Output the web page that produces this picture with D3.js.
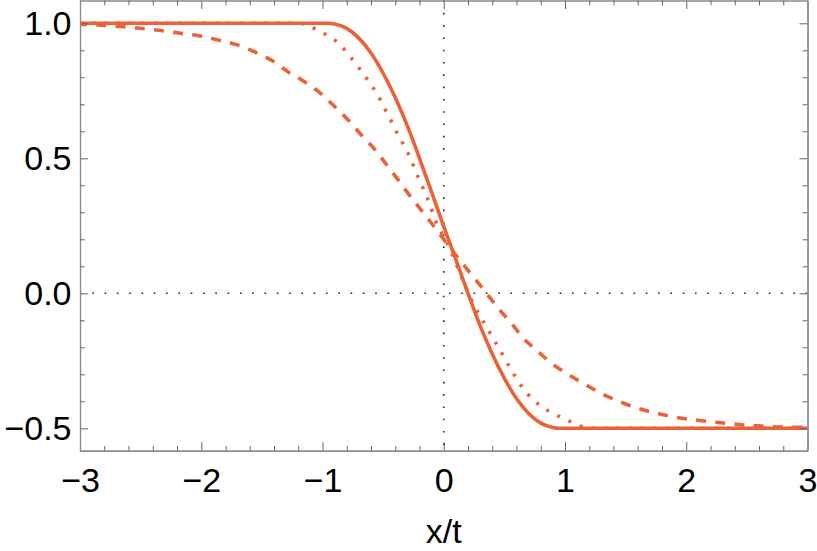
<!DOCTYPE html>
<html>
<head>
<meta charset="utf-8">
<script src="https://cdn.jsdelivr.net/npm/d3@7"></script>
<style>
  html, body { margin: 0; padding: 0; background: #fff; }
  svg { display: block; }
  text { font-family: "Liberation Sans", Arial, sans-serif; }
</style>
</head>
<body>
<svg id="chart" width="817" height="551"></svg>
<script>
// ---- data ----
const solidX = [-3, -0.95, -0.9, -0.8, -0.7, -0.6, -0.5, -0.4, -0.3, -0.2, -0.1, 0, 0.1, 0.2, 0.3, 0.4, 0.5, 0.6, 0.7, 0.8, 0.9, 0.95, 3];
const solidY = [1, 1, 0.997, 0.981, 0.945, 0.89, 0.815, 0.725, 0.62, 0.5, 0.375, 0.247, 0.125, 0.0, -0.12, -0.225, -0.315, -0.39, -0.445, -0.481, -0.497, -0.5, -0.5];

const dottedX = [-3, -1.2, -1.1, -1.05, -0.964, -0.88, -0.808, -0.75, -0.687, -0.626, -0.577, -0.522, -0.473, -0.431, -0.385, -0.294, -0.212, -0.129, -0.06, 0.016, 0.242, 0.352, 0.448, 0.544, 0.654, 0.791, 0.956, 1.066, 1.2, 3];
const dottedY = [1, 1, 0.99, 0.975, 0.957, 0.931, 0.897, 0.864, 0.827, 0.79, 0.757, 0.716, 0.672, 0.636, 0.594, 0.519, 0.431, 0.346, 0.26, 0.197, -0.037, -0.124, -0.198, -0.274, -0.352, -0.414, -0.457, -0.479, -0.5, -0.5];

const dashedX = [-3, -2.82, -2.66, -2.49, -2.33, -2.17, -2.01, -1.86, -1.71, -1.56, -1.41, -1.283, -1.146, -1.008, -0.898, -0.789, -0.679, -0.569, -0.473, -0.376, -0.28, -0.184, -0.088, 0, 0.132, 0.242, 0.324, 0.462, 0.558, 0.654, 0.764, 0.888, 1.011, 1.148, 1.313, 1.45, 1.6, 1.753, 1.912, 2.07, 2.23, 2.38, 2.55, 2.7, 2.87, 3];
const dashedY = [0.996, 0.993, 0.988, 0.981, 0.973, 0.963, 0.953, 0.938, 0.921, 0.894, 0.86, 0.82, 0.783, 0.738, 0.691, 0.642, 0.586, 0.533, 0.477, 0.42, 0.362, 0.307, 0.252, 0.2, 0.123, 0.062, 0.016, -0.062, -0.111, -0.165, -0.21, -0.259, -0.296, -0.333, -0.374, -0.401, -0.426, -0.444, -0.459, -0.469, -0.477, -0.484, -0.49, -0.494, -0.496, -0.497];

const xMajorTicks = [-3, -2, -1, 0, 1, 2, 3];
const xTickLabels = ["\u22123", "\u22122", "\u22121", "0", "1", "2", "3"];
const yMajorTicks = [-0.5, 0, 0.5, 1.0];
const yTickLabels = ["\u22120.5", "0.0", "0.5", "1.0"];
const xLabel = "x/t";

// ---- layout ----
const mLeft = 80, mRight = 807.5, mTop = 0.5, mBottom = 450.7;
const color = "#EC6238";
const frameColor = "#8a8a8a";

const x = d3.scaleLinear().domain([-3, 3]).range([mLeft, mRight]);
const y = d3.scaleLinear().domain([-0.583, 1.0844]).range([mBottom, mTop]);

const svg = d3.select("#chart");

// minor tick values
const xMinor = d3.range(-3, 3.0001, 0.2).map(v => +v.toFixed(2))
  .filter(v => !xMajorTicks.some(m => Math.abs(m - v) < 1e-6));
const yMinor = d3.range(-0.5, 1.0001, 0.1).map(v => +v.toFixed(2))
  .filter(v => !yMajorTicks.some(m => Math.abs(m - v) < 1e-6));

// reference dotted lines at x=0, y=0
svg.append("line")
  .attr("x1", x(0)).attr("x2", x(0)).attr("y1", mTop).attr("y2", mBottom)
  .attr("stroke", "#222").attr("stroke-width", 1.6).attr("stroke-dasharray", "1.6,10.7");
svg.append("line")
  .attr("x1", mLeft).attr("x2", mRight).attr("y1", y(0)).attr("y2", y(0))
  .attr("stroke", "#222").attr("stroke-width", 1.6).attr("stroke-dasharray", "1.6,10.7");

// clip
svg.append("clipPath").attr("id", "clip")
  .append("rect").attr("x", mLeft).attr("y", mTop - 5).attr("width", mRight - mLeft + 3).attr("height", mBottom - mTop + 5);

const line = d3.line().x(d => x(d[0])).y(d => y(d[1])).curve(d3.curveMonotoneX);

const g = svg.append("g").attr("clip-path", "url(#clip)");
g.append("path").datum(dashedX.map((v, i) => [v, dashedY[i]]))
  .attr("d", line).attr("fill", "none").attr("stroke", color).attr("stroke-width", 3.6)
  .attr("stroke-dasharray", "10,9.3").attr("stroke-dashoffset", 3);
g.append("path").datum(dottedX.map((v, i) => [v, dottedY[i]]))
  .attr("d", line).attr("fill", "none").attr("stroke", color).attr("stroke-width", 3.6)
  .attr("stroke-dasharray", "3,9.3");
g.append("path").datum(solidX.map((v, i) => [v, solidY[i]]))
  .attr("d", line).attr("fill", "none").attr("stroke", color).attr("stroke-width", 3.6);

// ---- axes / frame ----
function styleAxis(sel) {
  sel.select(".domain").attr("stroke", frameColor).attr("stroke-width", 1.2);
  sel.selectAll(".tick line").attr("stroke", "#666").attr("stroke-width", 1);
}

// bottom major (with labels)
const gb = svg.append("g").attr("transform", `translate(0,${mBottom})`)
  .call(d3.axisBottom(x).tickValues(xMajorTicks).tickSizeInner(-8.5).tickSizeOuter(0).tickPadding(17)
    .tickFormat((d, i) => xTickLabels[i]));
styleAxis(gb);
gb.selectAll("text").attr("font-size", 34).attr("fill", "#000")
  .attr("font-family", "'Liberation Sans', Arial, sans-serif");
svg.append("g").attr("transform", `translate(0,${mBottom})`)
  .call(d3.axisBottom(x).tickValues(xMinor).tickSizeInner(-4.8).tickSizeOuter(0).tickFormat(""))
  .call(styleAxis);

// top
svg.append("g").attr("transform", `translate(0,${mTop})`)
  .call(d3.axisTop(x).tickValues(xMajorTicks).tickSizeInner(-8.5).tickSizeOuter(0).tickFormat(""))
  .call(styleAxis);
svg.append("g").attr("transform", `translate(0,${mTop})`)
  .call(d3.axisTop(x).tickValues(xMinor).tickSizeInner(-4.8).tickSizeOuter(0).tickFormat(""))
  .call(styleAxis);

// left major (with labels)
const gl = svg.append("g").attr("transform", `translate(${mLeft},0)`)
  .call(d3.axisLeft(y).tickValues(yMajorTicks).tickSizeInner(-8).tickSizeOuter(0).tickPadding(8.5)
    .tickFormat((d, i) => yTickLabels[i]));
styleAxis(gl);
gl.selectAll("text").attr("font-size", 34).attr("fill", "#000")
  .attr("font-family", "'Liberation Sans', Arial, sans-serif");
svg.append("g").attr("transform", `translate(${mLeft},0)`)
  .call(d3.axisLeft(y).tickValues(yMinor).tickSizeInner(-4.8).tickSizeOuter(0).tickFormat(""))
  .call(styleAxis);

// right
svg.append("g").attr("transform", `translate(${mRight},0)`)
  .call(d3.axisRight(y).tickValues(yMajorTicks).tickSizeInner(-8).tickSizeOuter(0).tickFormat(""))
  .call(styleAxis);
svg.append("g").attr("transform", `translate(${mRight},0)`)
  .call(d3.axisRight(y).tickValues(yMinor).tickSizeInner(-4.8).tickSizeOuter(0).tickFormat(""))
  .call(styleAxis);

// x label
svg.append("text").attr("x", (mLeft + mRight) / 2).attr("y", 543)
  .attr("text-anchor", "middle").attr("font-size", 34).attr("fill", "#000")
  .text(xLabel);
</script>
</body>
</html>
